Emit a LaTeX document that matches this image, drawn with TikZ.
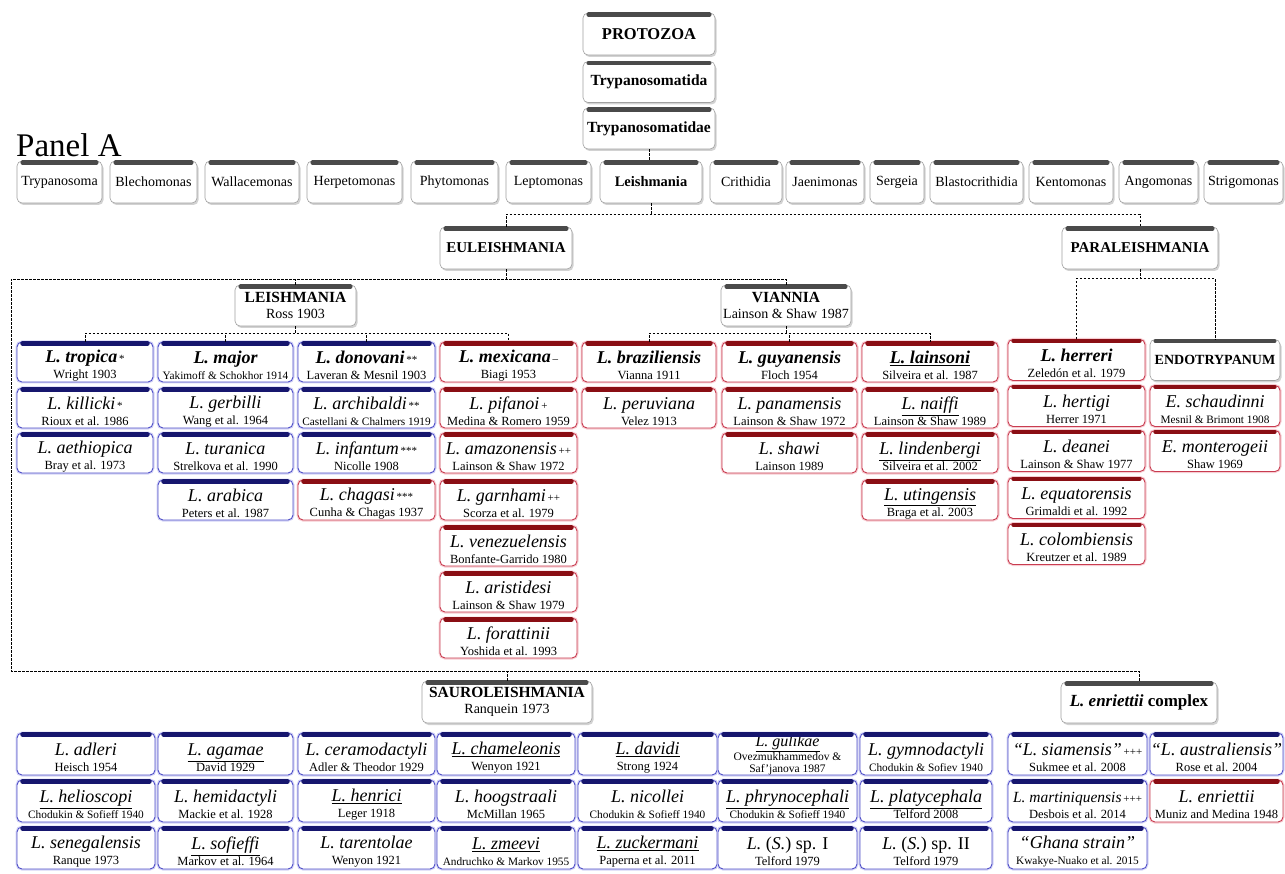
\documentclass[tikz,border=0pt]{standalone}
\usepackage{fontspec}
\setmainfont{Liberation Serif}
\usetikzlibrary{shadows,calc}
\definecolor{bluebd}{HTML}{5050C8}
\definecolor{blueglow}{HTML}{D4D4F6}
\definecolor{redbd}{HTML}{C83C50}
\definecolor{redglow}{HTML}{F7CCD2}
\definecolor{bbarc}{HTML}{16166E}
\definecolor{rbarc}{HTML}{8A0E14}
\definecolor{gbarc}{HTML}{4A4A4A}
\definecolor{gbd}{HTML}{A0A0A0}
\newcommand\SpN[1]{{\fontsize{18}{16}\selectfont\itshape\rule{0pt}{19.5pt}#1}}
\newcommand\SpB[1]{{\fontsize{18}{16}\selectfont\bfseries\itshape\rule{0pt}{19.5pt}#1}}
\newcommand\SpU[1]{{\fontsize{18}{16}\selectfont\itshape\rule{0pt}{19.5pt}\underline{#1}}}
\newcommand\SpBU[1]{{\fontsize{18}{16}\selectfont\bfseries\itshape\rule{0pt}{19.5pt}\underline{#1}}}
\newcommand\Au[1]{{\fontsize{12.5}{16}\selectfont #1}}
\newcommand\AuS[1]{{\fontsize{11.3}{16}\selectfont #1}}
\newcommand\Mk[1]{{\fontsize{11}{10}\selectfont\upshape\mdseries\,#1}}
\newcommand\Hd[2][15.5]{{\fontsize{#1}{16}\selectfont\bfseries #2}}
\newcommand\Gn[1]{{\fontsize{14}{16}\selectfont #1}}
\newcommand\Mybox[8][]{%
 \node[#2box,minimum width=#6pt,minimum height=#7pt,#1] (#3) at (#4,#5) {#8};
 \draw[#2bar] ([xshift=6pt,yshift=-2pt]#3.north west) -- ([xshift=-6pt,yshift=-2pt]#3.north east);
}
\tikzset{
 basebox/.style={rounded corners=5pt, fill=white, inner xsep=1pt, inner ysep=0pt, align=center, font=\fontsize{12}{16}\selectfont},
 gbox/.style={basebox, draw=gbd, line width=0.6pt, drop shadow={shadow xshift=1.5pt, shadow yshift=-2pt, opacity=0.35, fill=gray}},
 bbox/.style={basebox, draw=bluebd, line width=0.9pt, preaction={draw=blueglow, line width=3pt}},
 rbox/.style={basebox, draw=redbd, line width=0.9pt, preaction={draw=redglow, line width=3pt}},
 gbar/.style={line width=4.5pt, line cap=round, draw=gbarc},
 bbar/.style={line width=4.5pt, line cap=round, draw=bbarc},
 rbar/.style={line width=4.5pt, line cap=round, draw=rbarc},
 conn/.style={draw=black, line width=0.75pt, dash pattern=on 2.5pt off 1.5pt},
}
\begin{document}
\begin{tikzpicture}[x=1pt,y=-1pt]
\fill[white] (0,0) rectangle (1285,874);
\useasboundingbox (0,0) rectangle (1285,874);

% top hierarchy
\Mybox{g}{protozoa}{649}{34}{132}{42}{\Hd[16.5]{PROTOZOA}}
\Mybox{g}{tda}{649}{82}{132}{41}{\Hd{Trypanosomatida}}
\Mybox{g}{tdae}{649}{128.5}{132}{41}{\Hd{Trypanosomatidae}}
\node[anchor=base west, font=\fontsize{33}{33}\selectfont, inner sep=0pt] (panel) at (16,157) {Panel A};

% genus row
\Mybox{g}{gtry}{59.5}{182}{85}{42}{\Gn{Trypanosoma}}
\Mybox{g}{gble}{153.5}{182}{87}{42}{\Gn{Blechomonas}}
\Mybox{g}{gwal}{252}{182}{94}{42}{\Gn{Wallacemonas}}
\Mybox{g}{gher}{354.5}{182}{95}{42}{\Gn{Herpetomonas}}
\Mybox{g}{gphy}{454.5}{182}{87}{42}{\Gn{Phytomonas}}
\Mybox{g}{glep}{548.5}{182}{85}{42}{\Gn{Leptomonas}}
\Mybox{g}{gleish}{651}{182}{102}{42}{\Hd[14.5]{Leishmania}}
\Mybox{g}{gcri}{746}{182}{72}{42}{\Gn{Crithidia}}
\Mybox{g}{gjae}{825}{182}{78}{42}{\Gn{Jaenimonas}}
\Mybox{g}{gser}{897}{182}{54}{42}{\Gn{Sergeia}}
\Mybox{g}{gbla}{976.5}{182}{93}{42}{\Gn{Blastocrithidia}}
\Mybox{g}{gken}{1071}{182}{84}{42}{\Gn{Kentomonas}}
\Mybox{g}{gang}{1158.5}{182}{79}{42}{\Gn{Angomonas}}
\Mybox{g}{gstr}{1243.5}{182}{79}{42}{\Gn{Strigomonas}}

% subgenera
\Mybox{g}{eul}{506}{248}{132}{42}{\Hd[15]{EULEISHMANIA}}
\Mybox{g}{para}{1140}{248}{156}{42}{\Hd[15]{PARALEISHMANIA}}
\Mybox{g}{leis}{295.5}{305.5}{121}{41}{\Hd{LEISHMANIA}\\{\fontsize{14}{16}\selectfont Ross 1903}}
\Mybox{g}{vian}{786}{305.5}{130}{41}{\Hd{VIANNIA}\\{\fontsize{14}{16}\selectfont Lainson \& Shaw 1987}}

% column 1
\Mybox{b}{tro}{85}{362}{136}{40}{\SpB{L. tropica}\Mk{*}\\\Au{Wright 1903}}
\Mybox{b}{kil}{85}{408}{136}{40}{\SpN{L. killicki}\Mk{*}\\\Au{Rioux et al. 1986}}
\Mybox{b}{aet}{85}{453}{136}{40}{\SpN{L. aethiopica}\\\Au{Bray et al. 1973}}
% column 2
\Mybox{b}{maj}{225.5}{362}{135}{40}{\SpB{L. major}\\\AuS{Yakimoff \& Schokhor 1914}}
\Mybox{b}{ger}{225.5}{408}{135}{40}{\SpN{L. gerbilli}\\\Au{Wang et al. 1964}}
\Mybox{b}{tur}{225.5}{453}{135}{40}{\SpN{L. turanica}\\\Au{Strelkova et al. 1990}}
\Mybox{b}{ara}{225.5}{500}{135}{40}{\SpN{L. arabica}\\\Au{Peters et al. 1987}}
% column 3
\Mybox{b}{don}{366.5}{362}{137}{40}{\SpB{L. donovani}\Mk{**}\\\Au{Laveran \& Mesnil 1903}}
\Mybox{b}{arc}{366.5}{408}{137}{40}{\SpN{L. archibaldi}\Mk{**}\\\AuS{Castellani \& Chalmers 1919}}
\Mybox{b}{inf}{366.5}{453}{137}{40}{\SpN{L. infantum}\Mk{***}\\\Au{Nicolle 1908}}
\Mybox{r}{cha}{366.5}{500}{137}{40}{\SpN{L. chagasi}\Mk{***}\\\Au{Cunha \& Chagas 1937}}
% column 4
\Mybox{r}{mex}{508.5}{362}{137}{40}{\SpB{L. mexicana}\Mk{--}\\\Au{Biagi 1953}}
\Mybox{r}{pif}{508.5}{408}{137}{40}{\SpN{L. pifanoi}\Mk{+}\\\Au{Medina \& Romero 1959}}
\Mybox{r}{ama}{508.5}{453}{137}{40}{\SpN{L. amazonensis}\Mk{++}\\\Au{Lainson \& Shaw 1972}}
\Mybox{r}{gar}{508.5}{500}{137}{40}{\SpN{L. garnhami}\Mk{++}\\\Au{Scorza et al. 1979}}
\Mybox{r}{ven}{508.5}{546}{137}{40}{\SpN{L. venezuelensis}\\\Au{Bonfante-Garrido 1980}}
\Mybox{r}{ari}{508.5}{592}{137}{40}{\SpN{L. aristidesi}\\\Au{Lainson \& Shaw 1979}}
\Mybox{r}{for}{508.5}{638}{137}{40}{\SpN{L. forattinii}\\\Au{Yoshida et al. 1993}}
% column 5
\Mybox{r}{bra}{649}{362}{134}{40}{\SpB{L. braziliensis}\\\Au{Vianna 1911}}
\Mybox{r}{per}{649}{408}{134}{40}{\SpN{L. peruviana}\\\Au{Velez 1913}}
% column 6
\Mybox{r}{guy}{789.5}{362}{135}{40}{\SpB{L. guyanensis}\\\Au{Floch 1954}}
\Mybox{r}{pan}{789.5}{408}{135}{40}{\SpN{L. panamensis}\\\Au{Lainson \& Shaw 1972}}
\Mybox{r}{sha}{789.5}{453}{135}{40}{\SpN{L. shawi}\\\Au{Lainson 1989}}
% column 7
\Mybox{r}{lai}{930}{362}{136}{40}{\SpBU{L. lainsoni}\\\Au{Silveira et al. 1987}}
\Mybox{r}{nai}{930}{408}{136}{40}{\SpU{L. naiffi}\\\Au{Lainson \& Shaw 1989}}
\Mybox{r}{lin}{930}{453}{136}{40}{\SpU{L. lindenbergi}\\\Au{Silveira et al. 2002}}
\Mybox{r}{uti}{930}{500}{136}{40}{\SpU{L. utingensis}\\\Au{Braga et al. 2003}}
% column 8
\Mybox{r}{her}{1076.5}{360}{137}{41}{\SpB{L. herreri}\\\Au{Zeled\'on et al. 1979}}
\Mybox{r}{hert}{1076.5}{406}{137}{41}{\SpN{L. hertigi}\\\Au{Herrer 1971}}
\Mybox{r}{dea}{1076.5}{451}{137}{41}{\SpN{L. deanei}\\\Au{Lainson \& Shaw 1977}}
\Mybox{r}{equ}{1076.5}{498}{137}{41}{\SpN{L. equatorensis}\\\Au{Grimaldi et al. 1992}}
\Mybox{r}{col}{1076.5}{544}{137}{41}{\SpN{L. colombiensis}\\\Au{Kreutzer et al. 1989}}
% column 9
\Mybox{g}{endo}{1215}{360}{130}{41}{\Hd[14]{ENDOTRYPANUM}}
\Mybox{r}{sch}{1215}{406}{130}{41}{\SpN{E. schaudinni}\\\AuS{Mesnil \& Brimont 1908}}
\Mybox{r}{mon}{1215}{451}{130}{41}{\SpN{E. monterogeii}\\\Au{Shaw 1969}}

% lower groups
\Mybox{g}{saur}{507}{702}{170}{42}{\Hd{SAUROLEISHMANIA}\\{\fontsize{14}{16}\selectfont Ranquein 1973}}
\Mybox{g}{enrc}{1139}{702.5}{156}{41}{{\fontsize{17}{16}\selectfont\bfseries\textit{L. enriettii} complex}}

% Sauroleishmania species
\Mybox{b}{adl}{86}{754}{138}{42}{\SpN{L. adleri}\\\Au{Heisch 1954}}
\Mybox{b}{hel}{86}{801}{138}{42}{\SpU{L. helioscopi}\\\AuS{Chodukin \& Sofieff 1940}}
\Mybox{b}{sen}{86}{848}{138}{42}{\SpN{L. senegalensis}\\\Au{Ranque 1973}}
\Mybox{b}{aga}{225.5}{754}{135}{42}{\SpU{L. agamae}\\\Au{David 1929}}
\Mybox{b}{hem}{225.5}{801}{135}{42}{\SpN{L. hemidactyli}\\\Au{Mackie et al. 1928}}
\Mybox{b}{sof}{225.5}{848}{135}{42}{\SpU{L. sofieffi}\\\Au{Markov et al. 1964}}
\Mybox{b}{cer}{366.5}{754}{137}{42}{\SpN{L. ceramodactyli}\\\Au{Adler \& Theodor 1929}}
\Mybox{b}{hen}{366.5}{801}{137}{42}{\SpU{L. henrici}\\\Au{Leger 1918}}
\Mybox{b}{tar}{366.5}{848}{137}{42}{\SpN{L. tarentolae}\\\Au{Wenyon 1921}}
\Mybox{b}{chm}{506}{754}{138}{42}{\SpU{L. chameleonis}\\\Au{Wenyon 1921}}
\Mybox{b}{hoo}{506}{801}{138}{42}{\SpN{L. hoogstraali}\\\Au{McMillan 1965}}
\Mybox{b}{zme}{506}{848}{138}{42}{\SpU{L. zmeevi}\\\AuS{Andruchko \& Markov 1955}}
\Mybox{b}{dav}{647.5}{754}{139}{42}{\SpU{L. davidi}\\\Au{Strong 1924}}
\Mybox{b}{nic}{647.5}{801}{139}{42}{\SpN{L. nicollei}\\\AuS{Chodukin \& Sofieff 1940}}
\Mybox{b}{zuc}{647.5}{848}{139}{42}{\SpU{L. zuckermani}\\\Au{Paperna et al. 2011}}
\Mybox[font=\fontsize{11.5}{11.5}\selectfont]{b}{gul}{787.5}{754}{139}{42}{{\fontsize{16}{11.5}\selectfont\itshape\rule{0pt}{13pt}\underline{L. gulikae}}\\Ovezmukhammedov \&\\Saf'janova 1987}
\Mybox{b}{phr}{787.5}{801}{139}{42}{\SpU{L. phrynocephali}\\\AuS{Chodukin \& Sofieff 1940}}
\Mybox{b}{spi}{787.5}{848}{139}{42}{{\fontsize{18}{16}\selectfont\rule{0pt}{19.5pt}\textit{L.} (\textit{S.}) sp. I}\\\Au{Telford 1979}}
\Mybox{b}{gym}{926}{754}{132}{42}{\SpN{L. gymnodactyli}\\\AuS{Chodukin \& Sofiev 1940}}
\Mybox{b}{pla}{926}{801}{132}{42}{\SpU{L. platycephala}\\\Au{Telford 2008}}
\Mybox{b}{spii}{926}{848}{132}{42}{{\fontsize{18}{16}\selectfont\rule{0pt}{19.5pt}\textit{L.} (\textit{S.}) sp. II}\\\Au{Telford 1979}}

% L. enriettii complex species
\Mybox{b}{sia}{1077.5}{754}{139}{42}{\SpN{``L. siamensis''}\Mk{+++}\\\Au{Sukmee et al. 2008}}
\Mybox{b}{mar}{1077.5}{801}{139}{42}{{\fontsize{15.5}{16}\selectfont\itshape\rule{0pt}{19.5pt}L. martiniquensis}\Mk{+++}\\\Au{Desbois et al. 2014}}
\Mybox{b}{gha}{1077.5}{848}{139}{42}{\SpN{``Ghana strain''}\\\AuS{Kwakye-Nuako et al. 2015}}
\Mybox{b}{aus}{1216.5}{754}{133}{42}{\SpN{``L. australiensis''}\\\Au{Rose et al. 2004}}
\Mybox{r}{enr}{1216.5}{801}{133}{42}{\SpN{L. enriettii}\\\Au{Muniz and Medina 1948}}

% connectors
\draw[conn] (tdae.south) -- (tdae.south |- gleish.north);
\draw[conn] (gleish.south) -- ++(0,11) coordinate (j1);
\draw[conn] (eul.north) |- (j1) -| (para.north);
\coordinate (hl) at (11,279);
\coordinate (hb) at (11,671);
\draw[conn] (eul.south) -- (eul.south |- hl);
\draw[conn] (vian.north) |- (hl) -- (hb) -| (enrc.north);
\draw[conn] (leis.north) -- (leis.north |- hl);
\draw[conn] (saur.north) -- (saur.north |- hb);
\draw[conn] (leis.south) -- ++(0,7) coordinate (lj);
\draw[conn] (tro.north) |- (lj) -| (mex.north);
\draw[conn] (maj.north) -- (maj.north |- lj);
\draw[conn] (don.north) -- (don.north |- lj);
\draw[conn] (vian.south) -- ++(0,7) coordinate (vj);
\draw[conn] (bra.north) |- (vj) -| (lai.north);
\draw[conn] (guy.north) -- (guy.north |- vj);
\draw[conn] (para.south) -- ++(0,9) coordinate (pj);
\draw[conn] (her.north) |- (pj) -| (endo.north);
\end{tikzpicture}
\end{document}
